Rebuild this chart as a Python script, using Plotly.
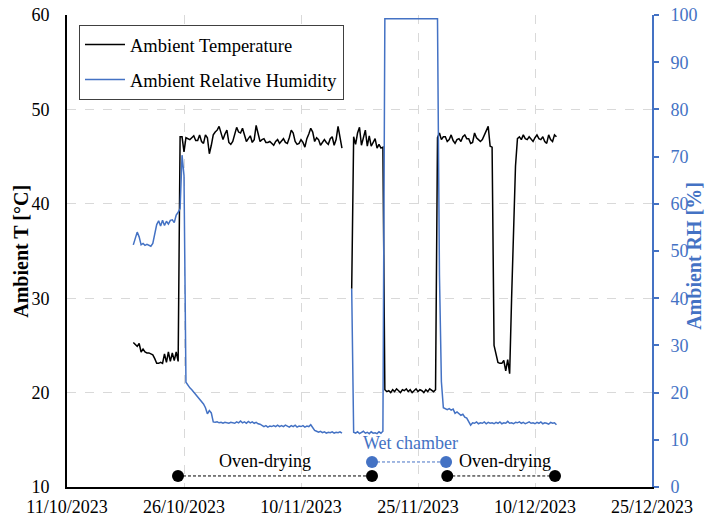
import pandas as pd
import plotly.graph_objects as go

# ---------------- data (6-hourly readings per phase) ----------------
T_PRE_START = "2023-10-19 12:00"
T_pre = [25.3, 25.1, 24.9, 25.2, 24.3, 24.6, 24.3, 24.2, 24.2, 24.1, 24.0, 23.6,
         23.1, 23.1, 23.2, 23.1, 24.1, 23.2, 24.3, 23.3, 24.2, 23.4, 24.3, 23.3]
RH_pre = [51.3, 52.8, 54.0, 53.0, 51.3, 51.6, 51.2, 51.4, 51.2, 51.0, 51.6, 54.0,
          55.6, 56.4, 55.3, 56.5, 55.4, 56.3, 55.7, 56.5, 56.6, 56.0, 57.6, 58.2]

OVEN1_START = "2023-10-25 12:00"
T_oven1 = [47.1, 47.1, 45.5, 47.0, 46.9, 46.8, 47.0, 47.2, 46.7, 46.7, 47.3, 46.6,
           46.4, 47.3, 47.0, 45.3, 46.2, 47.3, 47.6, 47.8, 48.2, 47.4, 46.8, 47.4,
           47.8, 46.5, 46.3, 46.6, 47.4, 48.1, 47.6, 47.5, 48.0, 47.3, 46.6, 46.9,
           47.2, 46.5, 46.8, 48.3, 47.4, 46.6, 46.8, 46.9, 46.5, 46.5, 46.6, 46.4,
           46.2, 46.6, 46.8, 46.4, 46.6, 46.9, 46.5, 46.4, 47.0, 47.8, 47.5, 46.6,
           46.3, 46.4, 46.8, 46.5, 46.0, 46.9, 47.4, 48.0, 47.6, 46.6, 47.0, 46.8,
           46.2, 46.5, 46.8, 46.5, 46.3, 46.9, 47.1, 46.2, 46.8, 48.2, 46.8, 45.9]
RH_oven1 = [59.0, 70.3, 66.0, 22.2, 21.5, 21.0, 20.6, 20.1, 19.7, 19.0, 18.5, 18.1,
            17.6, 16.8, 15.5, 16.2, 15.7, 13.8, 13.7, 13.8, 13.6, 13.7, 13.5, 13.7,
            13.6, 13.5, 13.7, 13.6, 13.5, 13.8, 13.6, 14.0, 13.6, 13.8, 13.5, 13.9,
            13.6, 13.8, 13.5, 13.7, 13.4, 13.3, 13.1, 12.8, 13.0, 12.7, 12.9, 12.8,
            13.0, 12.8, 13.1, 12.8, 13.0, 12.8, 13.1, 12.9, 12.7, 13.0, 12.8, 13.1,
            12.7, 12.9, 12.8, 13.0, 12.7, 12.9, 12.8, 13.2, 12.6, 12.0, 11.8, 11.6,
            11.8, 11.5, 11.7, 11.4, 11.6, 11.5, 11.7, 11.4, 11.6, 11.5, 11.7, 11.4]

GAP_TIME = "2023-11-16 00:00"

HOT2_START = "2023-11-16 12:00"
T_hot2 = [31.0, 47.1, 46.3, 47.5, 48.1, 46.2, 47.0, 47.8, 46.1, 47.2, 46.1, 46.5,
          46.9, 45.9, 46.3, 45.9, 46.0]
RH_hot2 = [42.0, 11.6, 11.4, 11.7, 11.3, 11.6, 11.8, 11.4, 11.6, 11.3, 11.7, 11.4,
           11.5, 11.3, 11.7, 11.4, 11.8]

WET_START = "2023-11-20 18:00"
T_wet = [20.3, 20.1, 20.2, 20.0, 20.3, 20.1, 20.4, 20.2, 20.0, 20.3, 20.2, 20.4,
         20.1, 20.3, 20.0, 20.2, 20.4, 20.1, 20.3, 20.2, 20.0, 20.3, 20.1, 20.4,
         20.2, 20.1, 20.3]
RH_wet = [99.2, 99.2, 99.2, 99.2, 99.2, 99.2, 99.2, 99.2, 99.2, 99.2, 99.2, 99.2,
          99.2, 99.2, 99.2, 99.2, 99.2, 99.2, 99.2, 99.2, 99.2, 99.2, 99.2, 99.2,
          99.2, 99.2, 99.2]

HOT3_START = "2023-11-27 12:00"
T_hot3 = [47.0, 47.5, 46.8, 47.1, 47.1, 46.6, 46.8, 47.3, 46.7, 46.4, 46.8, 46.9,
          46.6, 47.1, 47.3, 46.9, 46.9, 46.4, 46.5, 47.5, 47.0, 46.8, 46.6, 46.8,
          47.3, 47.6, 48.2, 46.1, 46.0]
RH_hot3 = [99.2, 45.0, 22.3, 16.8, 16.6, 16.4, 16.6, 16.3, 16.5, 15.6, 15.9, 15.6,
           15.2, 15.4, 14.8, 14.6, 13.9, 13.1, 13.6, 13.5, 13.8, 13.4, 13.6, 13.5,
           13.8, 13.4, 13.7, 13.5, 13.6]

COOL_START = "2023-12-04 18:00"
T_cool = [25.0, 24.0, 23.2, 23.1, 23.1, 23.4, 22.3, 23.5, 22.0, 30.0, 38.0, 44.0]
RH_cool = [13.4, 13.7, 13.5, 13.8, 13.4, 13.6, 13.5, 13.9, 13.5, 13.6, 13.4, 13.7]

HOT4_START = "2023-12-07 18:00"
T_hot4 = [46.9, 47.1, 46.8, 47.3, 46.9, 46.8, 47.1, 46.9, 46.6, 47.0, 47.3, 46.9,
          46.8, 47.1, 46.6, 46.4, 47.3, 46.8, 46.6, 47.3, 47.1]
RH_hot4 = [13.6, 13.8, 13.5, 13.7, 13.4, 13.6, 13.8, 13.5, 13.6, 13.4, 13.7, 13.5,
           13.8, 13.4, 13.6, 13.5, 13.3, 13.7, 13.5, 13.6, 13.2]

# phase markers
oven1_dates = ["2023-10-25 05:30", "2023-11-19 02:30"]
wet_dates = ["2023-11-19 02:30", "2023-11-28 14:24"]
oven2_dates = ["2023-11-28 18:00", "2023-12-12 13:30"]
oven_level = [11.17, 11.17]
wet_level = [12.65, 12.65]

phase_labels = ["Oven-drying", "Wet chamber", "Oven-drying"]
phase_label_dates = ["2023-11-05 10:00", "2023-11-24 00:00", "2023-12-06 04:00"]
phase_label_levels = [12.75, 14.7, 12.75]

x_ticks = ["2023-10-11", "2023-10-26", "2023-11-10", "2023-11-25", "2023-12-10", "2023-12-25"]
x_ticklabels = ["11/10/2023", "26/10/2023", "10/11/2023", "25/11/2023", "10/12/2023", "25/12/2023"]

# ---------------- build series ----------------
def times(start, vals):
    return list(pd.date_range(start, periods=len(vals), freq="6h"))

segments = [(T_PRE_START, T_pre, RH_pre), (OVEN1_START, T_oven1, RH_oven1), None,
            (HOT2_START, T_hot2, RH_hot2), (WET_START, T_wet, RH_wet),
            (HOT3_START, T_hot3, RH_hot3), (COOL_START, T_cool, RH_cool),
            (HOT4_START, T_hot4, RH_hot4)]
xs, ts, rhs = [], [], []
for s in segments:
    if s is None:
        xs.append(pd.Timestamp(GAP_TIME)); ts.append(None); rhs.append(None)
        continue
    xs += times(s[0], s[1]); ts += s[1]; rhs += s[2]

BLUE = "#4472C4"
FONT = "Liberation Serif, Times New Roman, serif"

fig = go.Figure()
fig.add_trace(go.Scatter(x=xs, y=ts, mode="lines", name="Ambient Temperature",
                         line=dict(color="black", width=1.5), legendgroup="a",
                         connectgaps=False))
fig.add_trace(go.Scatter(x=xs, y=rhs, mode="lines", name="Ambient Relative Humidity",
                         line=dict(color=BLUE, width=1.5), yaxis="y2", legendgroup="b",
                         connectgaps=False))

fig.add_trace(go.Scatter(x=oven1_dates, y=oven_level, mode="lines+markers", showlegend=False,
                         line=dict(color="black", width=1, dash="3px,2px"),
                         marker=dict(color="black", size=12)))
fig.add_trace(go.Scatter(x=oven2_dates, y=oven_level, mode="lines+markers", showlegend=False,
                         line=dict(color="black", width=1, dash="3px,2px"),
                         marker=dict(color="black", size=12)))
fig.add_trace(go.Scatter(x=wet_dates, y=wet_level, mode="lines+markers", showlegend=False,
                         line=dict(color=BLUE, width=1, dash="3px,2px"),
                         marker=dict(color=BLUE, size=12)))

for lab, d, lv in zip(phase_labels, phase_label_dates, phase_label_levels):
    fig.add_annotation(x=d, y=lv, text=lab, showarrow=False, xref="x", yref="y",
                       font=dict(family=FONT, size=18, color=BLUE if lab.startswith("Wet") else "black"))

fig.add_annotation(x=-0.079, y=0.5, xref="paper", yref="paper", text="<b>Ambient T [°C]</b>",
                   textangle=-90, showarrow=False, xanchor="center", yanchor="middle",
                   font=dict(family=FONT, size=20, color="black"))
fig.add_annotation(x=1.072, y=0.49, xref="paper", yref="paper", text="<b>Ambient RH [%]</b>",
                   textangle=-90, showarrow=False, xanchor="center", yanchor="middle",
                   font=dict(family=FONT, size=20, color=BLUE))

fig.update_layout(
    width=705, height=518,
    margin=dict(l=67, r=53, t=15, b=31),
    paper_bgcolor="white", plot_bgcolor="white",
    font=dict(family=FONT, size=18, color="black"),
    showlegend=True,
    legend=dict(x=0.0205, y=0.979, xanchor="left", yanchor="top",
                bordercolor="#404040", borderwidth=1, bgcolor="white",
                font=dict(family=FONT, size=18.5), tracegroupgap=8, itemwidth=40),
    xaxis=dict(range=["2023-10-11", "2023-12-25"], tickvals=x_ticks, ticktext=x_ticklabels,
               showgrid=True, gridcolor="#d9d9d9", griddash="dash", gridwidth=1,
               showline=True, linecolor="black", linewidth=2, ticks="",
               tickfont=dict(family=FONT, size=18, color="black"), zeroline=False,
               ticklabelstandoff=2, automargin=False),
    yaxis=dict(range=[10, 60], dtick=10, showgrid=True, gridcolor="#d9d9d9", griddash="dash",
               showline=True, linecolor="black", linewidth=2, ticks="",
               tickfont=dict(family=FONT, size=18, color="black"), zeroline=False,
               ticklabelstandoff=12, automargin=False),
    yaxis2=dict(range=[0, 100], dtick=10, overlaying="y", side="right", showgrid=False,
                showline=True, linecolor=BLUE, linewidth=2, ticks="outside", ticklen=5,
                tickcolor=BLUE, tickwidth=2,
                tickfont=dict(family=FONT, size=18, color=BLUE), zeroline=False,
                ticklabelstandoff=8, automargin=False),
)

fig.write_html("out.html", config={"displayModeBar": False},
               post_script="document.body.style.margin='0';")
